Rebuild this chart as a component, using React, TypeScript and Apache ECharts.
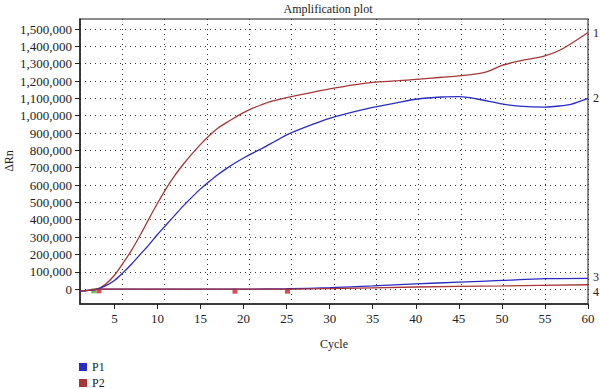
import React, { useEffect, useRef } from "react";
import * as echarts from "echarts";

// Curve 1 (P2, upper)
const cycles1 = [1, 2, 3, 4, 5, 6, 7, 8, 9, 10, 11, 12, 13, 14, 15, 16, 17, 18, 19, 20, 21, 22, 23, 24, 25, 28, 30, 33, 35, 38, 40, 43, 45, 48, 50, 52, 55, 57, 60];
const values1 = [-12000, -8000, 0, 30000, 80000, 150000, 225000, 312000, 405000, 495000, 580000, 655000, 720000, 780000, 835000, 885000, 928000, 960000, 990000, 1018000, 1042000, 1062000, 1080000, 1093000, 1105000, 1135000, 1155000, 1180000, 1192000, 1202000, 1210000, 1222000, 1230000, 1250000, 1290000, 1315000, 1345000, 1385000, 1480000];

// Curve 2 (P1, upper)
const cycles2 = [1, 2, 3, 4, 5, 6, 7, 8, 9, 10, 11, 12, 13, 14, 15, 16, 17, 18, 19, 20, 21, 22, 23, 24, 25, 28, 30, 33, 35, 38, 40, 43, 45, 47, 50, 52, 55, 57, 58, 60];
const values2 = [-12000, -8000, 0, 20000, 50000, 95000, 145000, 200000, 255000, 315000, 370000, 425000, 480000, 530000, 578000, 620000, 660000, 695000, 727000, 756000, 783000, 808000, 835000, 862000, 890000, 950000, 985000, 1025000, 1048000, 1077000, 1095000, 1108000, 1110000, 1098000, 1068000, 1055000, 1050000, 1058000, 1065000, 1100000];

// Curve 3 (P1, low)
const cycles3 = [1, 2, 3, 10, 20, 25, 30, 35, 40, 45, 50, 55, 60];
const values3 = [-12000, -8000, 0, 0, 0, 2000, 8000, 18000, 30000, 40000, 50000, 60000, 62000];

// Curve 4 (P2, low)
const cycles4 = [1, 2, 3, 10, 20, 25, 30, 40, 50, 60];
const values4 = [-10000, -7000, 0, 0, 0, 0, 3000, 12000, 18000, 25000];

// Baseline markers
const markerCycles = [2.6, 3.2, 19, 25.1];
const markerValues = [-10000, -10000, -12000, -12000];
const markerColors = ["#3cb83c", "#d42020", "#d42020", "#d42020"];

const yTickValues = [0, 100000, 200000, 300000, 400000, 500000, 600000, 700000, 800000, 900000, 1000000, 1100000, 1200000, 1300000, 1400000, 1500000];
const xTickValues = [5, 10, 15, 20, 25, 30, 35, 40, 45, 50, 55, 60];

const BLUE = "#2a2ac4";
const RED = "#a83636";
const FONT = "Liberation Serif";

const zip = (xs: number[], ys: number[]) => xs.map((x, i) => [x, ys[i]]);

export default function App() {
  const ref = useRef<HTMLDivElement>(null);
  useEffect(() => {
    if (!ref.current) return;
    const chart = echarts.init(ref.current, null, { renderer: "svg" });
    const endLabel = (txt: string, offset: number[] = [0, 0]) => ({
      show: true,
      formatter: txt,
      distance: 5,
      offset,
      color: "#222",
      fontFamily: FONT,
      fontSize: 12,
    });
    const dotted = { color: "#333", width: 1, type: [1, 4] as any };
    const lineSeries = (name: string, color: string, xs: number[], ys: number[], label: any) => ({
      name,
      type: "line",
      smooth: 0.3,
      showSymbol: false,
      color,
      lineStyle: { width: 1.3, color },
      data: zip(xs, ys),
      endLabel: label,
    });
    const legendItem = (name: string, top: number) => ({
      orient: "vertical",
      left: 79,
      top,
      padding: 0,
      icon: "rect",
      itemWidth: 8,
      itemHeight: 8,
      data: [name],
      textStyle: { fontFamily: FONT, fontSize: 12, color: "#222" },
    });
    chart.setOption({
      animation: false,
      backgroundColor: "#fff",
      textStyle: { fontFamily: FONT },
      graphic: [
        {
          type: "text",
          x: 328,
          y: 9,
          style: {
            text: "Amplification plot",
            fontFamily: FONT,
            fontSize: 12,
            fill: "#222",
            textAlign: "center",
            textVerticalAlign: "middle",
          },
        },
        {
          type: "text",
          x: 9,
          y: 161,
          rotation: Math.PI / 2,
          style: {
            text: "ΔRn",
            fontFamily: FONT,
            fontSize: 12,
            fill: "#222",
            textAlign: "center",
            textVerticalAlign: "middle",
          },
        },
      ],
      grid: {
        left: 80,
        right: 12,
        top: 19,
        bottom: 85,
        show: true,
        borderColor: "#666",
        borderWidth: 1.5,
        containLabel: false,
        outerBoundsMode: "none",
      },
      legend: [legendItem("P1", 361), legendItem("P2", 377)],
      xAxis: [
        {
          type: "value",
          min: 1,
          max: 60,
          name: "Cycle",
          nameLocation: "middle",
          nameGap: 34,
          nameTextStyle: { fontFamily: FONT, fontSize: 12, color: "#222" },
          axisLine: { show: true, onZero: false, lineStyle: { color: "#222", width: 1.5 } },
          axisTick: { show: true, length: 5, customValues: xTickValues, lineStyle: { color: "#222" } },
          axisLabel: {
            customValues: xTickValues,
            fontFamily: FONT,
            fontSize: 13,
            color: "#222",
            margin: 8,
          },
          splitLine: { show: false },
        },
        {
          type: "value",
          min: 0,
          max: 12,
          interval: 1,
          position: "bottom",
          axisLine: { show: false },
          axisTick: { show: false },
          axisLabel: { show: false },
          splitLine: { show: true, lineStyle: dotted },
        },
      ],
      yAxis: {
        type: "value",
        min: -86000,
        max: 1558000,
        axisLine: { show: true, onZero: false, lineStyle: { color: "#222", width: 1.5 } },
        axisTick: { show: true, length: 5, customValues: yTickValues, lineStyle: { color: "#222" } },
        axisLabel: {
          customValues: yTickValues,
          fontFamily: FONT,
          fontSize: 13,
          color: "#222",
          margin: 8,
          formatter: (v: number) => v.toLocaleString("en-US"),
        },
        splitLine: { show: true, lineStyle: dotted },
      },
      series: [
        lineSeries("P2", RED, cycles1, values1, endLabel("1")),
        lineSeries("P1", BLUE, cycles2, values2, endLabel("2")),
        lineSeries("P1", BLUE, cycles3, values3, endLabel("3", [0, -1])),
        lineSeries("P2", RED, cycles4, values4, endLabel("4", [0, 7])),
        {
          name: "markers",
          type: "scatter",
          symbol: "rect",
          symbolSize: 5,
          data: markerCycles.map((c, i) => ({
            value: [c, markerValues[i]],
            itemStyle: { color: markerColors[i] },
          })),
        },
      ],
    });
    return () => chart.dispose();
  }, []);
  return <div ref={ref} style={{ width: 600, height: 389, position: "absolute", left: 0, top: 0 }} />;
}
